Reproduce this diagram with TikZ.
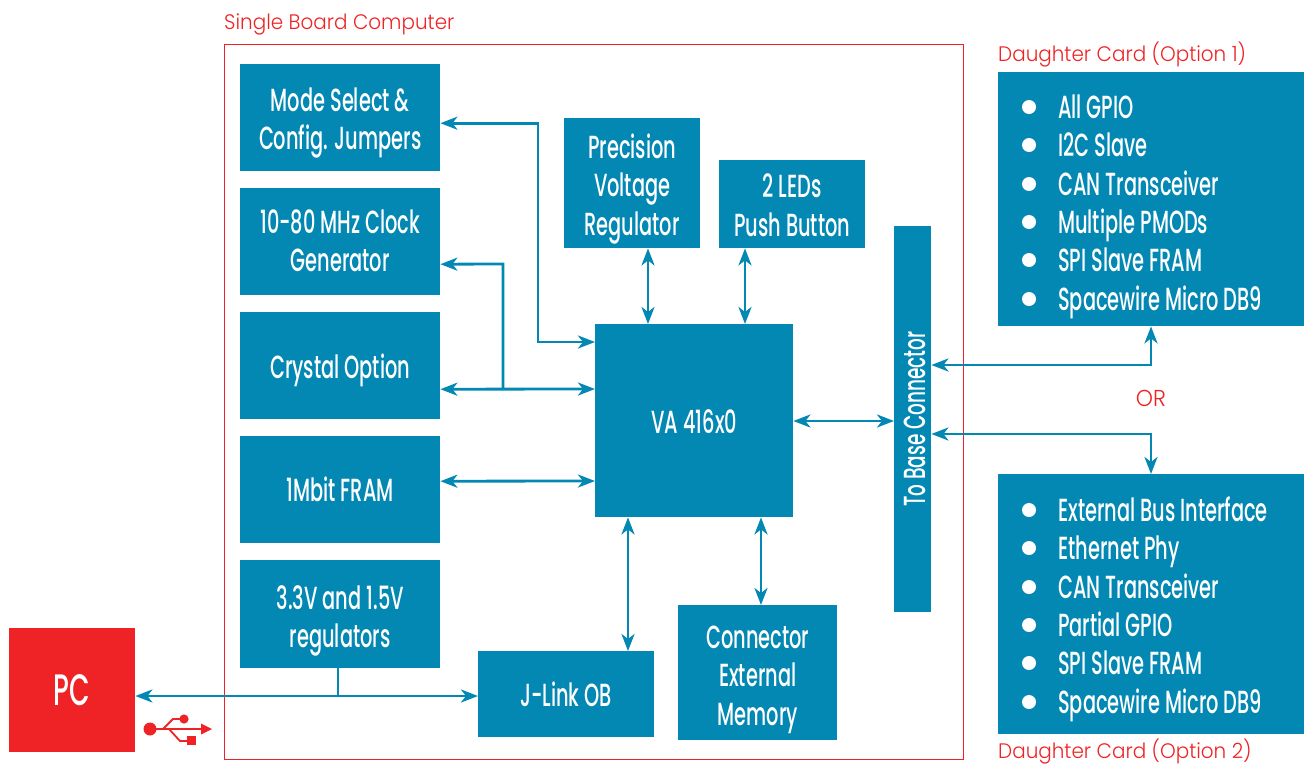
\documentclass[tikz,border=0pt]{standalone}
\usepackage{fontspec}
\setmainfont[FakeStretch=0.605]{Poppins Medium}
\newfontfamily\redfont[FakeStretch=0.95]{Poppins Light}
\usetikzlibrary{arrows.meta,calc}
\definecolor{bluebox}{HTML}{0388B4}
\definecolor{redmain}{HTML}{EF2325}
\newcommand\tl{\rule[-3pt]{0pt}{30pt}}
\newcommand\tlpc{\rule[-3pt]{0pt}{37pt}}
\newcommand\mlines[2]{\raisebox{-#1pt}[\height][\depth]{\begin{tabular}{@{}c@{}}#2\end{tabular}}}
\tikzset{
  x=1pt,y=-1pt,
  boxb/.style={fill=bluebox,draw=none,text=white,font=\fontsize{32}{38.4}\selectfont,align=center,inner sep=0pt,anchor=north west,execute at begin node=\tl,execute at end node=\tl},
  lift/.style={execute at begin node={\rule[-3pt]{0pt}{\dimexpr30pt+#1pt*2\relax}}},
  listline/.style={text=white,font=\fontsize{32}{36}\selectfont,inner sep=0pt,anchor=base west},
  dot/.style={circle,fill=white,draw=none,minimum size=14pt,inner sep=0pt},
  redlabel/.style={text=redmain,font=\redfont\fontsize{21}{24}\selectfont,inner sep=0pt,anchor=base west},
  conn/.style={draw=bluebox,line width=2.8pt,{Stealth[length=17pt,width=13pt,inset=5pt]}-{Stealth[length=17pt,width=13pt,inset=5pt]}},
  conns/.style={draw=bluebox,line width=2.8pt},
}
\begin{document}
\begin{tikzpicture}
\useasboundingbox (0,0) rectangle (1304,764);
\node[draw=redmain,line width=1.2pt,minimum width=738.5pt,minimum height=715pt,inner sep=0pt,anchor=north west] (sbc) at (224,44) {};
\node[redlabel] (lsbc) at (224,29.5) {Single Board Computer};
\node[redlabel] (ld1) at (998,61) {Daughter Card (Option 1)};
\node[redlabel] (ld2) at (998,758) {Daughter Card (Option 2)};
\node[redlabel,anchor=base,font=\redfont\fontsize{23}{24}\selectfont] (lor) at (1151,406) {OR};

\node[boxb,minimum width=200pt,minimum height=107pt] (mode) at (240,64) {\mlines{5}{Mode Select \&\\Config. Jumpers}};
\node[boxb,minimum width=200pt,minimum height=107pt] (clock) at (240,188) {\mlines{3}{10-80 MHz Clock\\Generator}};
\node[boxb,lift=3,minimum width=200pt,minimum height=107pt] (crystal) at (240,312) {Crystal Option};
\node[boxb,minimum width=200pt,minimum height=107pt] (fram) at (240,436) {1Mbit FRAM};
\node[boxb,minimum width=200pt,minimum height=108pt] (reg) at (240,560) {\mlines{6.5}{3.3V and 1.5V\\regulators}};
\node[boxb,minimum width=136pt,minimum height=130pt] (prec) at (564,118) {\mlines{6}{Precision\\Voltage\\Regulator}};
\node[boxb,minimum width=146pt,minimum height=88pt] (leds) at (719,160) {\mlines{5}{2 LEDs\\Push Button}};
\node[boxb,lift=1,minimum width=198pt,minimum height=193pt] (va) at (595,324) {VA 416x0};
\node[boxb,minimum width=37pt,minimum height=386pt] (base) at (894,226) {};
\node[text=white,font=\fontsize{30.5}{36}\selectfont,inner sep=0pt,rotate=90,anchor=base] (basetxt) at ([xshift=13pt]base.center) {To Base Connector};
\node[boxb,minimum width=159pt,minimum height=135pt] (cem) at (678,605) {\mlines{6.5}{Connector\\External\\Memory}};
\node[boxb,minimum width=176pt,minimum height=86pt] (jl) at (478,651) {J-Link OB};
\node[boxb,fill=redmain,minimum width=126pt,minimum height=124pt,font=\fontsize{44}{48}\selectfont,execute at begin node=\tlpc,execute at end node=\tlpc] (pc) at (9,628) {PC};
\node[boxb,minimum width=306pt,minimum height=254pt] (d1) at (998,72) {};
\node[boxb,minimum width=306pt,minimum height=260pt] (d2) at (998,474) {};

\foreach \n/\y/\t in {a/107/All GPIO,b/145/I2C Slave,c/184/CAN Transceiver,d/222/Multiple PMODs,e/260/SPI Slave FRAM,f/299/Spacewire Micro DB9,
  g/510/External Bus Interface,h/548/Ethernet Phy,i/587/CAN Transceiver,j/625/Partial GPIO,k/663/SPI Slave FRAM,l/702/Spacewire Micro DB9}{
  \node[dot] (dot\n) at (1029,\y) {};
  \node[listline] (item\n) at (1058,\y+11) {\t};
}

% connectors
\draw[conn] ([yshift=-18pt]va.north west) -- ++(-57,0) |- ([yshift=-5.5pt]mode.east);
\draw[conn,-{Stealth[length=17pt,width=13pt,inset=5pt]}] (503,389) -- (503,264) -- ([yshift=-22.5pt]clock.east);
\draw[conn] ([yshift=-23.5pt]crystal.east) -- (va.west |- 0,389);
\draw[conn] ([yshift=8.5pt]fram.east) -- (va.west |- 0,481);
\draw[conn] (prec.south -| 648,0) -- (va.north -| 648,0);
\draw[conn] (leds.south -| 745,0) -- (va.north -| 745,0);
\draw[conn] (va.east |- 0,421) -- (base.west |- 0,421);
\draw[conn] (va.south -| 628,0) -- (jl.north -| 628,0);
\draw[conn] (va.south -| 761,0) -- (cem.north -| 761,0);
\draw[conn] (base.east |- 0,365) -- (1151,365) -- (d1.south -| 1151,0);
\draw[conn] (base.east |- 0,434) -- (1151,434) -- (d2.north -| 1151,0);
\draw[conn] (pc.east |- 0,696) -- (jl.west |- 0,696);
\draw[conns] (reg.south -| 338,0) -- (338,696);

% USB symbol
\begin{scope}[redmain]
\fill (150,729) circle (6.5);
\draw[line width=1.8pt] (150,729) -- (203,729);
\fill (212,729) -- (201,723.5) -- (201,734.5) -- cycle;
\draw[line width=1.8pt] (163,729) -- (173,719) -- (184,719);
\fill (184,719) circle (4.6);
\draw[line width=1.8pt] (169,729) -- (180,741) -- (188,741);
\fill (186.5,736) rectangle (196,745);
\end{scope}
\end{tikzpicture}
\end{document}
